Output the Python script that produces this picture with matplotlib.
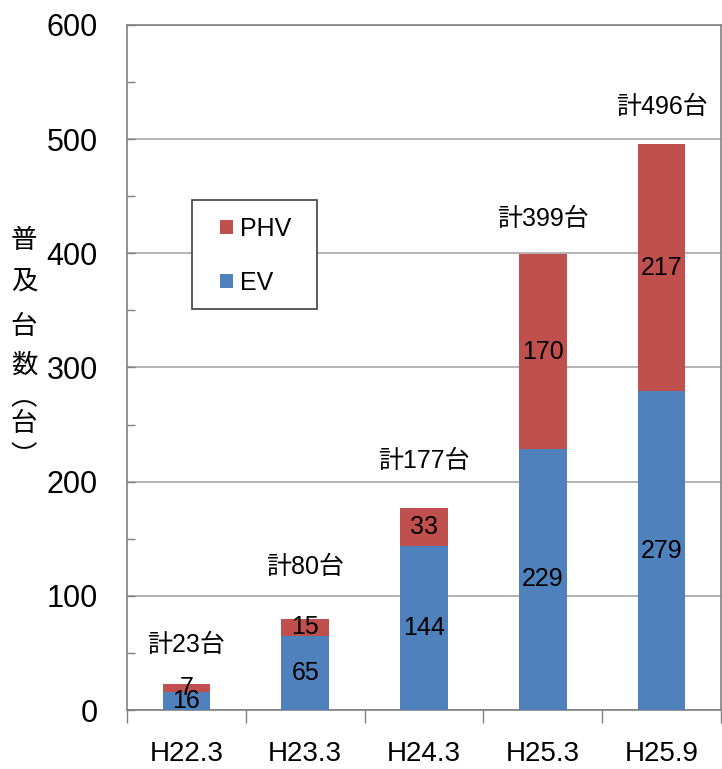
import matplotlib
matplotlib.use("Agg")
import matplotlib.pyplot as plt
import numpy as np
from matplotlib.patches import Patch, Rectangle

categories = ["H22.3", "H23.3", "H24.3", "H25.3", "H25.9"]
ev = [16, 65, 144, 229, 279]
phv = [7, 15, 33, 170, 217]
totals = [23, 80, 177, 399, 496]
total_labels = ["計23台", "計80台", "計177台", "計399台", "計496台"]
yticks = [0, 100, 200, 300, 400, 500, 600]
ylabel_chars = ["普", "及", "台", "数", "︵", "台", "︶"]

# layout (not data)
total_offsets = [34, 45, 41, 31, 32]
ylabel_ypix = [240, 281, 326, 365, 398, 424, 457]

EV_C = "#4F81BD"
PHV_C = "#C0504D"
GRID_C = "#A6A6A6"
SPINE_C = "#808080"

W, H = 722, 769
fig = plt.figure(figsize=(W / 100, H / 100), dpi=100)
ax = fig.add_axes([127 / W, 59 / H, (721 - 127) / W, (710 - 25) / H])

x = np.arange(len(categories))
b1 = ax.bar(x, ev, width=0.4, color=EV_C, zorder=3)
b2 = ax.bar(x, phv, width=0.4, bottom=ev, color=PHV_C, zorder=3)

lab_family = ["Liberation Sans", "DejaVu Sans"]
ax.bar_label(b1, labels=[str(v) for v in ev], label_type="center", color="black",
             fontfamily=lab_family, fontsize=18)
ax.bar_label(b2, labels=[str(v) for v in phv], label_type="center", color="black",
             fontfamily=lab_family, fontsize=18)

for xi, t, lab, off in zip(x, totals, total_labels, total_offsets):
    ax.text(xi, t + off, lab, ha="center", va="center",
            fontfamily=["Liberation Sans", "Noto Sans CJK JP"], fontsize=18)

ax.set_xlim(-0.5, len(categories) - 0.5)
ax.set_ylim(0, 600)
ax.set_yticks(yticks)
ax.set_yticks(np.arange(50, 600, 100), minor=True)
ax.set_yticklabels([str(v) for v in yticks], fontfamily=["Liberation Sans"], fontsize=22)
ax.tick_params(axis="y", which="both", direction="in", length=6, width=1, color=SPINE_C, pad=21)

ax.set_xticks(x)
ax.set_xticklabels(categories, fontfamily=["Liberation Sans"], fontsize=20)
ax.set_xticks(np.arange(-0.5, len(categories), 1.0), minor=True)
ax.tick_params(axis="x", which="major", length=0, pad=22)
ax.tick_params(axis="x", which="minor", direction="out", length=9, width=1, color=SPINE_C)

ax.grid(axis="y", which="major", color=GRID_C, linewidth=1.2, zorder=0)
ax.set_axisbelow(True)
for s in ax.spines.values():
    s.set_color(SPINE_C)
    s.set_linewidth(1.2)

# legend box
ax.add_patch(Rectangle((65 / 594, 401 / 685), 125 / 594, 109 / 685, transform=ax.transAxes,
                       facecolor="white", edgecolor="#404040", linewidth=1.2, zorder=5))
handles = [Patch(facecolor=PHV_C, edgecolor="none"), Patch(facecolor=EV_C, edgecolor="none")]
leg = ax.legend(handles, ["PHV", "EV"], loc="upper left", bbox_to_anchor=(93 / 594, 493 / 685),
                frameon=False, prop={"family": "Liberation Sans", "size": 18},
                handlelength=0.52, handleheight=0.52, handletextpad=0.3,
                labelspacing=1.2, borderpad=0, borderaxespad=0)
leg.set_zorder(6)

for ch, yp in zip(ylabel_chars, ylabel_ypix):
    fig.text(24 / W, 1 - yp / H, ch, ha="center", va="center",
             fontfamily=["Noto Sans CJK JP"], fontsize=19)

fig.savefig("out.png", dpi=100)
